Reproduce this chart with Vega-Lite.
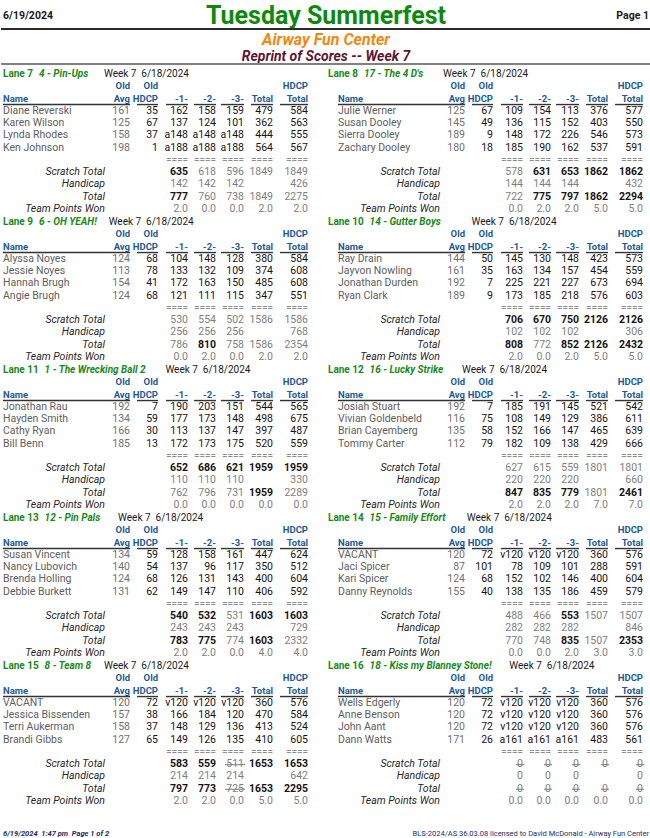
{
  "$schema": "https://vega.github.io/schema/vega-lite/v6.json",
  "background": "white",
  "padding": 0,
  "spacing": 0,
  "config": {"view": {"stroke": null}, "header": {"labels": false, "title": null, "labelPadding": 0, "titlePadding": 0}},
  "datasets": {
    "head": [
      {"role": "date", "line": 1, "text": "6/19/2024"},
      {"role": "title", "line": 1, "text": "Tuesday Summerfest"},
      {"role": "page", "line": 1, "text": "Page 1"},
      {"role": "venue", "line": 2, "text": "Airway Fun Center"},
      {"role": "report", "line": 3, "text": "Reprint of Scores -- Week 7"},
      {"role": "rule", "line": 1},
      {"role": "rule", "line": 3}
    ],
    "foot": [
      {"role": "left", "text": "6/19/2024\u00a0\u00a01:47 pm\u00a0\u00a0Page 1 of 2"},
      {"role": "right", "text": "BLS-2024/AS 36.03.08 licensed to David McDonald - Airway Fun Center"}
    ],
    "lanes": [
      {"lane": 7, "match": 1, "side": "L"}, {"lane": 8, "match": 1, "side": "R"},
      {"lane": 9, "match": 2, "side": "L"}, {"lane": 10, "match": 2, "side": "R"},
      {"lane": 11, "match": 3, "side": "L"}, {"lane": 12, "match": 3, "side": "R"},
      {"lane": 13, "match": 4, "side": "L"}, {"lane": 14, "match": 4, "side": "R"},
      {"lane": 15, "match": 5, "side": "L"}, {"lane": 16, "match": 5, "side": "R"}
    ],
    "cols": [
      {"col": "name", "ci": 0},
      {"col": "label", "ci": 1},
      {"col": "avg", "ci": 2, "cs": 0},
      {"col": "hdcp", "ci": 3, "cs": 2.5},
      {"col": "g1", "ci": 4, "cs": 3.5},
      {"col": "g2", "ci": 5, "cs": 4.5},
      {"col": "g3", "ci": 6, "cs": 5.5},
      {"col": "total", "ci": 7, "cs": 6.5},
      {"col": "htotal", "ci": 8, "cs": 7.5}
    ],
    "rows": [
      {"lane": 7, "row": "title", "lanelabel": "Lane 7", "team": "4 - Pin-Ups", "week": "Week 7\u00a0\u00a06/18/2024"},
      {"lane": 7, "row": "old", "avg": "Old", "hdcp": "Old", "htotal": "HDCP"},
      {"lane": 7, "row": "hdr", "name": "Name", "avg": "Avg", "hdcp": "HDCP", "g1": "-1-", "g2": "-2-", "g3": "-3-", "total": "Total", "htotal": "Total"},
      {"lane": 7, "row": "1", "name": "Diane Reverski", "avg": 161, "hdcp": 35, "g1": 162, "g2": 158, "g3": 159, "total": 479, "htotal": 584},
      {"lane": 7, "row": "2", "name": "Karen Wilson", "avg": 125, "hdcp": 67, "g1": 137, "g2": 124, "g3": 101, "total": 362, "htotal": 563},
      {"lane": 7, "row": "3", "name": "Lynda Rhodes", "avg": 158, "hdcp": 37, "g1": "a148", "g2": "a148", "g3": "a148", "total": 444, "htotal": 555},
      {"lane": 7, "row": "4", "name": "Ken Johnson", "avg": 198, "hdcp": 1, "g1": "a188", "g2": "a188", "g3": "a188", "total": 564, "htotal": 567},
      {"lane": 7, "row": "eq", "g1": "====", "g2": "====", "g3": "====", "total": "====", "htotal": "===="},
      {"lane": 7, "row": "scratch", "label": "Scratch Total", "g1": 635, "g2": 618, "g3": 596, "total": 1849, "htotal": 1849, "best": ["g1"]},
      {"lane": 7, "row": "hcp", "label": "Handicap", "g1": 142, "g2": 142, "g3": 142, "htotal": 426},
      {"lane": 7, "row": "tot", "label": "Total", "g1": 777, "g2": 760, "g3": 738, "total": 1849, "htotal": 2275, "best": ["g1"]},
      {"lane": 7, "row": "pts", "label": "Team Points Won", "g1": "2.0", "g2": "0.0", "g3": "0.0", "total": "2.0", "htotal": "2.0"},

      {"lane": 8, "row": "title", "lanelabel": "Lane 8", "team": "17 - The 4 D's", "week": "Week 7\u00a0\u00a06/18/2024"},
      {"lane": 8, "row": "old", "avg": "Old", "hdcp": "Old", "htotal": "HDCP"},
      {"lane": 8, "row": "hdr", "name": "Name", "avg": "Avg", "hdcp": "HDCP", "g1": "-1-", "g2": "-2-", "g3": "-3-", "total": "Total", "htotal": "Total"},
      {"lane": 8, "row": "1", "name": "Julie Werner", "avg": 125, "hdcp": 67, "g1": 109, "g2": 154, "g3": 113, "total": 376, "htotal": 577},
      {"lane": 8, "row": "2", "name": "Susan Dooley", "avg": 145, "hdcp": 49, "g1": 136, "g2": 115, "g3": 152, "total": 403, "htotal": 550},
      {"lane": 8, "row": "3", "name": "Sierra Dooley", "avg": 189, "hdcp": 9, "g1": 148, "g2": 172, "g3": 226, "total": 546, "htotal": 573},
      {"lane": 8, "row": "4", "name": "Zachary Dooley", "avg": 180, "hdcp": 18, "g1": 185, "g2": 190, "g3": 162, "total": 537, "htotal": 591},
      {"lane": 8, "row": "eq", "g1": "====", "g2": "====", "g3": "====", "total": "====", "htotal": "===="},
      {"lane": 8, "row": "scratch", "label": "Scratch Total", "g1": 578, "g2": 631, "g3": 653, "total": 1862, "htotal": 1862, "best": ["g2", "g3", "total", "htotal"]},
      {"lane": 8, "row": "hcp", "label": "Handicap", "g1": 144, "g2": 144, "g3": 144, "htotal": 432},
      {"lane": 8, "row": "tot", "label": "Total", "g1": 722, "g2": 775, "g3": 797, "total": 1862, "htotal": 2294, "best": ["g2", "g3", "total", "htotal"]},
      {"lane": 8, "row": "pts", "label": "Team Points Won", "g1": "0.0", "g2": "2.0", "g3": "2.0", "total": "5.0", "htotal": "5.0"},

      {"lane": 9, "row": "title", "lanelabel": "Lane 9", "team": "6 - OH YEAH!", "week": "Week 7\u00a0\u00a06/18/2024"},
      {"lane": 9, "row": "old", "avg": "Old", "hdcp": "Old", "htotal": "HDCP"},
      {"lane": 9, "row": "hdr", "name": "Name", "avg": "Avg", "hdcp": "HDCP", "g1": "-1-", "g2": "-2-", "g3": "-3-", "total": "Total", "htotal": "Total"},
      {"lane": 9, "row": "1", "name": "Alyssa Noyes", "avg": 124, "hdcp": 68, "g1": 104, "g2": 148, "g3": 128, "total": 380, "htotal": 584},
      {"lane": 9, "row": "2", "name": "Jessie Noyes", "avg": 113, "hdcp": 78, "g1": 133, "g2": 132, "g3": 109, "total": 374, "htotal": 608},
      {"lane": 9, "row": "3", "name": "Hannah Brugh", "avg": 154, "hdcp": 41, "g1": 172, "g2": 163, "g3": 150, "total": 485, "htotal": 608},
      {"lane": 9, "row": "4", "name": "Angie Brugh", "avg": 124, "hdcp": 68, "g1": 121, "g2": 111, "g3": 115, "total": 347, "htotal": 551},
      {"lane": 9, "row": "eq", "g1": "====", "g2": "====", "g3": "====", "total": "====", "htotal": "===="},
      {"lane": 9, "row": "scratch", "label": "Scratch Total", "g1": 530, "g2": 554, "g3": 502, "total": 1586, "htotal": 1586},
      {"lane": 9, "row": "hcp", "label": "Handicap", "g1": 256, "g2": 256, "g3": 256, "htotal": 768},
      {"lane": 9, "row": "tot", "label": "Total", "g1": 786, "g2": 810, "g3": 758, "total": 1586, "htotal": 2354, "best": ["g2"]},
      {"lane": 9, "row": "pts", "label": "Team Points Won", "g1": "0.0", "g2": "2.0", "g3": "0.0", "total": "2.0", "htotal": "2.0"},

      {"lane": 10, "row": "title", "lanelabel": "Lane 10", "team": "14 - Gutter Boys\u00a0\u00a0\u00a0", "week": "Week 7\u00a0\u00a06/18/2024"},
      {"lane": 10, "row": "old", "avg": "Old", "hdcp": "Old", "htotal": "HDCP"},
      {"lane": 10, "row": "hdr", "name": "Name", "avg": "Avg", "hdcp": "HDCP", "g1": "-1-", "g2": "-2-", "g3": "-3-", "total": "Total", "htotal": "Total"},
      {"lane": 10, "row": "1", "name": "Ray Drain", "avg": 144, "hdcp": 50, "g1": 145, "g2": 130, "g3": 148, "total": 423, "htotal": 573},
      {"lane": 10, "row": "2", "name": "Jayvon Nowling", "avg": 161, "hdcp": 35, "g1": 163, "g2": 134, "g3": 157, "total": 454, "htotal": 559},
      {"lane": 10, "row": "3", "name": "Jonathan Durden", "avg": 192, "hdcp": 7, "g1": 225, "g2": 221, "g3": 227, "total": 673, "htotal": 694},
      {"lane": 10, "row": "4", "name": "Ryan Clark", "avg": 189, "hdcp": 9, "g1": 173, "g2": 185, "g3": 218, "total": 576, "htotal": 603},
      {"lane": 10, "row": "eq", "g1": "====", "g2": "====", "g3": "====", "total": "====", "htotal": "===="},
      {"lane": 10, "row": "scratch", "label": "Scratch Total", "g1": 706, "g2": 670, "g3": 750, "total": 2126, "htotal": 2126, "best": ["g1", "g2", "g3", "total", "htotal"]},
      {"lane": 10, "row": "hcp", "label": "Handicap", "g1": 102, "g2": 102, "g3": 102, "htotal": 306},
      {"lane": 10, "row": "tot", "label": "Total", "g1": 808, "g2": 772, "g3": 852, "total": 2126, "htotal": 2432, "best": ["g1", "g3", "total", "htotal"]},
      {"lane": 10, "row": "pts", "label": "Team Points Won", "g1": "2.0", "g2": "0.0", "g3": "2.0", "total": "5.0", "htotal": "5.0"},

      {"lane": 11, "row": "title", "lanelabel": "Lane 11", "team": "1 - The Wrecking Ball 2", "week": "Week 7\u00a0\u00a06/18/2024"},
      {"lane": 11, "row": "old", "avg": "Old", "hdcp": "Old", "htotal": "HDCP"},
      {"lane": 11, "row": "hdr", "name": "Name", "avg": "Avg", "hdcp": "HDCP", "g1": "-1-", "g2": "-2-", "g3": "-3-", "total": "Total", "htotal": "Total"},
      {"lane": 11, "row": "1", "name": "Jonathan Rau", "avg": 192, "hdcp": 7, "g1": 190, "g2": 203, "g3": 151, "total": 544, "htotal": 565},
      {"lane": 11, "row": "2", "name": "Hayden Smith", "avg": 134, "hdcp": 59, "g1": 177, "g2": 173, "g3": 148, "total": 498, "htotal": 675},
      {"lane": 11, "row": "3", "name": "Cathy Ryan", "avg": 166, "hdcp": 30, "g1": 113, "g2": 137, "g3": 147, "total": 397, "htotal": 487},
      {"lane": 11, "row": "4", "name": "Bill Benn", "avg": 185, "hdcp": 13, "g1": 172, "g2": 173, "g3": 175, "total": 520, "htotal": 559},
      {"lane": 11, "row": "eq", "g1": "====", "g2": "====", "g3": "====", "total": "====", "htotal": "===="},
      {"lane": 11, "row": "scratch", "label": "Scratch Total", "g1": 652, "g2": 686, "g3": 621, "total": 1959, "htotal": 1959, "best": ["g1", "g2", "g3", "total", "htotal"]},
      {"lane": 11, "row": "hcp", "label": "Handicap", "g1": 110, "g2": 110, "g3": 110, "htotal": 330},
      {"lane": 11, "row": "tot", "label": "Total", "g1": 762, "g2": 796, "g3": 731, "total": 1959, "htotal": 2289, "best": ["total"]},
      {"lane": 11, "row": "pts", "label": "Team Points Won", "g1": "0.0", "g2": "0.0", "g3": "0.0", "total": "0.0", "htotal": "0.0"},

      {"lane": 12, "row": "title", "lanelabel": "Lane 12", "team": "16 - Lucky Strike", "week": "Week 7\u00a0\u00a06/18/2024"},
      {"lane": 12, "row": "old", "avg": "Old", "hdcp": "Old", "htotal": "HDCP"},
      {"lane": 12, "row": "hdr", "name": "Name", "avg": "Avg", "hdcp": "HDCP", "g1": "-1-", "g2": "-2-", "g3": "-3-", "total": "Total", "htotal": "Total"},
      {"lane": 12, "row": "1", "name": "Josiah Stuart", "avg": 192, "hdcp": 7, "g1": 185, "g2": 191, "g3": 145, "total": 521, "htotal": 542},
      {"lane": 12, "row": "2", "name": "Vivian Goldenbeld", "avg": 116, "hdcp": 75, "g1": 108, "g2": 149, "g3": 129, "total": 386, "htotal": 611},
      {"lane": 12, "row": "3", "name": "Brian Cayemberg", "avg": 135, "hdcp": 58, "g1": 152, "g2": 166, "g3": 147, "total": 465, "htotal": 639},
      {"lane": 12, "row": "4", "name": "Tommy Carter", "avg": 112, "hdcp": 79, "g1": 182, "g2": 109, "g3": 138, "total": 429, "htotal": 666},
      {"lane": 12, "row": "eq", "g1": "====", "g2": "====", "g3": "====", "total": "====", "htotal": "===="},
      {"lane": 12, "row": "scratch", "label": "Scratch Total", "g1": 627, "g2": 615, "g3": 559, "total": 1801, "htotal": 1801},
      {"lane": 12, "row": "hcp", "label": "Handicap", "g1": 220, "g2": 220, "g3": 220, "htotal": 660},
      {"lane": 12, "row": "tot", "label": "Total", "g1": 847, "g2": 835, "g3": 779, "total": 1801, "htotal": 2461, "best": ["g1", "g2", "g3", "htotal"]},
      {"lane": 12, "row": "pts", "label": "Team Points Won", "g1": "2.0", "g2": "2.0", "g3": "2.0", "total": "7.0", "htotal": "7.0"},

      {"lane": 13, "row": "title", "lanelabel": "Lane 13", "team": "12 - Pin Pals", "week": "Week 7\u00a0\u00a06/18/2024"},
      {"lane": 13, "row": "old", "avg": "Old", "hdcp": "Old", "htotal": "HDCP"},
      {"lane": 13, "row": "hdr", "name": "Name", "avg": "Avg", "hdcp": "HDCP", "g1": "-1-", "g2": "-2-", "g3": "-3-", "total": "Total", "htotal": "Total"},
      {"lane": 13, "row": "1", "name": "Susan Vincent", "avg": 134, "hdcp": 59, "g1": 128, "g2": 158, "g3": 161, "total": 447, "htotal": 624},
      {"lane": 13, "row": "2", "name": "Nancy Lubovich", "avg": 140, "hdcp": 54, "g1": 137, "g2": 96, "g3": 117, "total": 350, "htotal": 512},
      {"lane": 13, "row": "3", "name": "Brenda Holling", "avg": 124, "hdcp": 68, "g1": 126, "g2": 131, "g3": 143, "total": 400, "htotal": 604},
      {"lane": 13, "row": "4", "name": "Debbie Burkett", "avg": 131, "hdcp": 62, "g1": 149, "g2": 147, "g3": 110, "total": 406, "htotal": 592},
      {"lane": 13, "row": "eq", "g1": "====", "g2": "====", "g3": "====", "total": "====", "htotal": "===="},
      {"lane": 13, "row": "scratch", "label": "Scratch Total", "g1": 540, "g2": 532, "g3": 531, "total": 1603, "htotal": 1603, "best": ["g1", "g2", "total", "htotal"]},
      {"lane": 13, "row": "hcp", "label": "Handicap", "g1": 243, "g2": 243, "g3": 243, "htotal": 729},
      {"lane": 13, "row": "tot", "label": "Total", "g1": 783, "g2": 775, "g3": 774, "total": 1603, "htotal": 2332, "best": ["g1", "g2", "total"]},
      {"lane": 13, "row": "pts", "label": "Team Points Won", "g1": "2.0", "g2": "2.0", "g3": "0.0", "total": "4.0", "htotal": "4.0"},

      {"lane": 14, "row": "title", "lanelabel": "Lane 14", "team": "15 - Family Effort", "week": "Week 7\u00a0\u00a06/18/2024"},
      {"lane": 14, "row": "old", "avg": "Old", "hdcp": "Old", "htotal": "HDCP"},
      {"lane": 14, "row": "hdr", "name": "Name", "avg": "Avg", "hdcp": "HDCP", "g1": "-1-", "g2": "-2-", "g3": "-3-", "total": "Total", "htotal": "Total"},
      {"lane": 14, "row": "1", "name": "VACANT", "avg": 120, "hdcp": 72, "g1": "v120", "g2": "v120", "g3": "v120", "total": 360, "htotal": 576},
      {"lane": 14, "row": "2", "name": "Jaci Spicer", "avg": 87, "hdcp": 101, "g1": 78, "g2": 109, "g3": 101, "total": 288, "htotal": 591},
      {"lane": 14, "row": "3", "name": "Kari Spicer", "avg": 124, "hdcp": 68, "g1": 152, "g2": 102, "g3": 146, "total": 400, "htotal": 604},
      {"lane": 14, "row": "4", "name": "Danny Reynolds", "avg": 155, "hdcp": 40, "g1": 138, "g2": 135, "g3": 186, "total": 459, "htotal": 579},
      {"lane": 14, "row": "eq", "g1": "====", "g2": "====", "g3": "====", "total": "====", "htotal": "===="},
      {"lane": 14, "row": "scratch", "label": "Scratch Total", "g1": 488, "g2": 466, "g3": 553, "total": 1507, "htotal": 1507, "best": ["g3"]},
      {"lane": 14, "row": "hcp", "label": "Handicap", "g1": 282, "g2": 282, "g3": 282, "htotal": 846},
      {"lane": 14, "row": "tot", "label": "Total", "g1": 770, "g2": 748, "g3": 835, "total": 1507, "htotal": 2353, "best": ["g3", "htotal"]},
      {"lane": 14, "row": "pts", "label": "Team Points Won", "g1": "0.0", "g2": "0.0", "g3": "2.0", "total": "3.0", "htotal": "3.0"},

      {"lane": 15, "row": "title", "lanelabel": "Lane 15", "team": "8 - Team 8", "week": "Week 7\u00a0\u00a06/18/2024"},
      {"lane": 15, "row": "old", "avg": "Old", "hdcp": "Old", "htotal": "HDCP"},
      {"lane": 15, "row": "hdr", "name": "Name", "avg": "Avg", "hdcp": "HDCP", "g1": "-1-", "g2": "-2-", "g3": "-3-", "total": "Total", "htotal": "Total"},
      {"lane": 15, "row": "1", "name": "VACANT", "avg": 120, "hdcp": 72, "g1": "v120", "g2": "v120", "g3": "v120", "total": 360, "htotal": 576},
      {"lane": 15, "row": "2", "name": "Jessica Bissenden", "avg": 157, "hdcp": 38, "g1": 166, "g2": 184, "g3": 120, "total": 470, "htotal": 584},
      {"lane": 15, "row": "3", "name": "Terri Aukerman", "avg": 158, "hdcp": 37, "g1": 148, "g2": 129, "g3": 136, "total": 413, "htotal": 524},
      {"lane": 15, "row": "4", "name": "Brandi Gibbs", "avg": 127, "hdcp": 65, "g1": 149, "g2": 126, "g3": 135, "total": 410, "htotal": 605},
      {"lane": 15, "row": "eq", "g1": "====", "g2": "====", "g3": "====", "total": "====", "htotal": "===="},
      {"lane": 15, "row": "scratch", "label": "Scratch Total", "g1": 583, "g2": 559, "g3": 511, "total": 1653, "htotal": 1653, "best": ["g1", "g2", "total", "htotal"], "strike": ["g3"]},
      {"lane": 15, "row": "hcp", "label": "Handicap", "g1": 214, "g2": 214, "g3": 214, "htotal": 642},
      {"lane": 15, "row": "tot", "label": "Total", "g1": 797, "g2": 773, "g3": 725, "total": 1653, "htotal": 2295, "best": ["g1", "g2", "total", "htotal"], "strike": ["g3"]},
      {"lane": 15, "row": "pts", "label": "Team Points Won", "g1": "2.0", "g2": "2.0", "g3": "0.0", "total": "5.0", "htotal": "5.0"},

      {"lane": 16, "row": "title", "lanelabel": "Lane 16", "team": "18 - Kiss my Blanney Stone!", "week": "Week 7\u00a0\u00a06/18/2024"},
      {"lane": 16, "row": "old", "avg": "Old", "hdcp": "Old", "htotal": "HDCP"},
      {"lane": 16, "row": "hdr", "name": "Name", "avg": "Avg", "hdcp": "HDCP", "g1": "-1-", "g2": "-2-", "g3": "-3-", "total": "Total", "htotal": "Total"},
      {"lane": 16, "row": "1", "name": "Wells Edgerly", "avg": 120, "hdcp": 72, "g1": "v120", "g2": "v120", "g3": "v120", "total": 360, "htotal": 576},
      {"lane": 16, "row": "2", "name": "Anne Benson", "avg": 120, "hdcp": 72, "g1": "v120", "g2": "v120", "g3": "v120", "total": 360, "htotal": 576},
      {"lane": 16, "row": "3", "name": "John Aant", "avg": 120, "hdcp": 72, "g1": "v120", "g2": "v120", "g3": "v120", "total": 360, "htotal": 576},
      {"lane": 16, "row": "4", "name": "Dann Watts", "avg": 171, "hdcp": 26, "g1": "a161", "g2": "a161", "g3": "a161", "total": 483, "htotal": 561},
      {"lane": 16, "row": "eq", "g1": "====", "g2": "====", "g3": "====", "total": "====", "htotal": "===="},
      {"lane": 16, "row": "scratch", "label": "Scratch Total", "g1": 0, "g2": 0, "g3": 0, "total": 0, "htotal": 0, "strike": ["g1", "g2", "g3", "total", "htotal"]},
      {"lane": 16, "row": "hcp", "label": "Handicap", "g1": 0, "g2": 0, "g3": 0, "htotal": 0},
      {"lane": 16, "row": "tot", "label": "Total", "g1": 0, "g2": 0, "g3": 0, "total": 0, "htotal": 0, "strike": ["g1", "g2", "g3", "total", "htotal"]},
      {"lane": 16, "row": "pts", "label": "Team Points Won", "g1": "0.0", "g2": "0.0", "g3": "0.0", "total": "0.0", "htotal": "0.0"}
    ]
  },
  "vconcat": [
    {
      "width": 650,
      "height": 65,
      "data": {"name": "head"},
      "encoding": {
        "y": {"field": "line", "type": "quantitative", "scale": {"domain": [1, 2, 3], "range": [16, 40, 57], "zero": false, "nice": false}, "axis": null}
      },
      "layer": [
        {"transform": [{"filter": "datum.role == 'title'"}], "mark": {"type": "text", "font": "Roboto", "fontSize": 25, "fontWeight": "bold", "fill": "#0d8a0d", "baseline": "middle"}, "encoding": {"text": {"field": "text"}}},
        {"transform": [{"filter": "datum.role == 'venue'"}], "mark": {"type": "text", "font": "Roboto", "fontSize": 16, "fontWeight": "bold", "fontStyle": "italic", "fill": "#f5870f", "baseline": "middle"}, "encoding": {"text": {"field": "text"}}},
        {"transform": [{"filter": "datum.role == 'report'"}], "mark": {"type": "text", "font": "Roboto", "fontSize": 14, "fontWeight": "bold", "fontStyle": "italic", "fill": "#5d1632", "baseline": "middle"}, "encoding": {"text": {"field": "text"}}},
        {"transform": [{"filter": "datum.role == 'date' || datum.role == 'page'"}], "mark": {"type": "text", "font": "Roboto", "fontSize": 10.5, "fontWeight": "bold", "fill": "#1a1a1a", "baseline": "middle", "align": {"expr": "datum.role == 'page' ? 'right' : 'left'"}}, "encoding": {"x": {"field": "role", "type": "nominal", "scale": {"type": "point", "domain": ["date", "page"], "range": [2, 648], "padding": 0}, "axis": null}, "text": {"field": "text"}}},
        {"transform": [{"filter": "datum.role == 'rule'"}], "mark": {"type": "rule", "strokeWidth": 2, "stroke": {"expr": "datum.line == 1 ? '#2a2a2a' : '#808080'"}, "yOffset": {"expr": "datum.line == 1 ? 13 : 7"}}, "encoding": {}}
      ]
    },
    {
      "data": {"name": "rows"},
      "transform": [
        {"lookup": "lane", "from": {"data": {"name": "lanes"}, "key": "lane", "fields": ["match", "side"]}},
        {"fold": ["name", "label", "avg", "hdcp", "g1", "g2", "g3", "total", "htotal"], "as": ["col", "text"]},
        {"lookup": "col", "from": {"data": {"name": "cols"}, "key": "col", "fields": ["ci", "cs"]}}
      ],
      "facet": {
        "row": {"field": "match", "type": "ordinal", "header": null},
        "column": {"field": "side", "type": "nominal", "header": null}
      },
      "spacing": {"row": 0, "column": 0},
      "bounds": "flush",
      "spec": {
        "width": 325,
        "height": 147.5,
        "encoding": {
          "x": {"field": "ci", "type": "quantitative", "scale": {"domain": [0, 1, 2, 2.5, 3, 3.5, 4, 4.5, 5, 5.5, 6, 6.5, 7, 7.5, 8], "range": [2, 104, 129, 136, 157, 165, 187, 193, 215, 220, 243, 250, 272, 279, 307], "zero": false, "nice": false}, "axis": null},
          "y": {"field": "row", "type": "nominal", "scale": {"type": "point", "domain": ["title", "old", "hdr", "1", "2", "3", "4", "eq", "scratch", "hcp", "tot", "pts"], "range": [9, 144], "padding": 0}, "axis": null}
        },
        "layer": [
          {"transform": [{"filter": "datum.row == 'title' && datum.col == 'name'"}], "mark": {"type": "text", "font": "Roboto", "fontSize": 10, "fontWeight": "bold", "align": "left", "baseline": "middle", "fill": "#178a17"}, "encoding": {"text": {"field": "lanelabel"}}},
          {"transform": [{"filter": "datum.row == 'title' && datum.col == 'name'"}], "mark": {"type": "text", "font": "Roboto", "fontSize": 10, "fontWeight": "bold", "fontStyle": "italic", "align": "left", "baseline": "middle", "fill": "#178a17", "dx": {"expr": "length(datum.lanelabel) * 5.6 + 2.4"}}, "encoding": {"text": {"field": "team"}}},
          {"transform": [{"filter": "datum.row == 'title' && datum.col == 'name'"}], "mark": {"type": "text", "font": "Roboto", "fontSize": 10, "align": "left", "baseline": "middle", "fill": "#1a1a1a", "dx": {"expr": "length(datum.lanelabel + datum.team) * 4.73 + 20.5"}}, "encoding": {"text": {"field": "week"}}},
          {"transform": [{"filter": "(datum.row == 'old' || datum.row == 'hdr') && datum.col != 'name' && isValid(datum.text)"}], "mark": {"type": "text", "font": "Roboto", "fontSize": 9.5, "fontWeight": "bold", "align": "right", "baseline": "middle", "fill": "#1c5a97", "xOffset": {"expr": "datum.side == 'R' ? 10 : 0"}}, "encoding": {"text": {"field": "text"}}},
          {"transform": [{"filter": "datum.row == 'hdr' && datum.col == 'name'"}], "mark": {"type": "text", "font": "Roboto", "fontSize": 9.5, "fontWeight": "bold", "align": "left", "baseline": "middle", "fill": "#1c5a97", "xOffset": {"expr": "datum.side == 'R' ? 10 : 0"}}, "encoding": {"text": {"field": "text"}}},
          {"transform": [{"filter": "datum.row == 'hdr' && datum.col != 'name' && isValid(datum.text)"}], "mark": {"type": "rule", "stroke": "#333333", "strokeWidth": 1.4, "yOffset": 6, "xOffset": {"expr": "datum.side == 'R' ? 10 : 0"}, "x2Offset": {"expr": "datum.side == 'R' ? 10 : 0"}}, "encoding": {"x": {"field": "cs", "type": "quantitative", "axis": null}, "x2": {"field": "ci"}}},
          {"transform": [{"filter": "indexof(['1','2','3','4'], datum.row) >= 0 && datum.col == 'name'"}], "mark": {"type": "text", "font": "Roboto", "fontSize": 10.5, "align": "left", "baseline": "middle", "fill": "#5e5e5e", "xOffset": {"expr": "datum.side == 'R' ? 10 : 0"}}, "encoding": {"text": {"field": "text"}}},
          {"transform": [{"filter": "indexof(['1','2','3','4'], datum.row) >= 0 && datum.col == 'avg'"}], "mark": {"type": "text", "font": "Roboto", "fontSize": 10.5, "align": "right", "baseline": "middle", "fill": "#707070", "xOffset": {"expr": "datum.side == 'R' ? 10 : 0"}}, "encoding": {"text": {"field": "text"}}},
          {"transform": [{"filter": "indexof(['1','2','3','4'], datum.row) >= 0 && datum.col != 'avg' && datum.col != 'name' && isValid(datum.text)"}], "mark": {"type": "text", "font": "Roboto", "fontSize": 10.5, "align": "right", "baseline": "middle", "fill": "#141414", "xOffset": {"expr": "datum.side == 'R' ? 10 : 0"}}, "encoding": {"text": {"field": "text"}}},
          {"transform": [{"filter": "datum.row == 'eq' && isValid(datum.text)"}], "mark": {"type": "text", "font": "Roboto", "fontSize": 10, "align": "right", "baseline": "middle", "fill": "#8c8c8c", "xOffset": {"expr": "datum.side == 'R' ? 10 : 0"}}, "encoding": {"text": {"field": "text"}}},
          {"transform": [{"filter": "datum.col == 'label' && isValid(datum.text)"}], "mark": {"type": "text", "font": "Roboto", "fontSize": 10.5, "fontStyle": "italic", "align": "right", "baseline": "middle", "fill": "#262626", "xOffset": {"expr": "datum.side == 'R' ? 10 : 0"}}, "encoding": {"text": {"field": "text"}}},
          {"transform": [{"filter": "indexof(['scratch','hcp','tot','pts'], datum.row) >= 0 && datum.col != 'label' && isValid(datum.text)"}], "mark": {"type": "text", "font": "Roboto", "fontSize": 10.5, "align": "right", "baseline": "middle", "fill": {"expr": "isArray(datum.best) && indexof(datum.best, datum.col) >= 0 ? '#141414' : '#7e7e7e'"}, "fontWeight": {"expr": "isArray(datum.best) && indexof(datum.best, datum.col) >= 0 ? 'bold' : 'normal'"}, "xOffset": {"expr": "datum.side == 'R' ? 10 : 0"}}, "encoding": {"text": {"field": "text"}}},
          {"transform": [{"filter": "isArray(datum.strike) && indexof(datum.strike, datum.col) >= 0"}], "mark": {"type": "rule", "stroke": "#777777", "strokeWidth": 1, "yOffset": 0.5, "xOffset": {"expr": "(datum.side == 'R' ? 10 : 0) - length('' + datum.text) * 6 - 1"}, "x2Offset": {"expr": "(datum.side == 'R' ? 10 : 0) + 1"}}, "encoding": {"x2": {"field": "ci"}}}
        ]
      }
    },
    {
      "width": 650,
      "height": 35.5,
      "data": {"name": "foot"},
      "mark": {"type": "text", "font": "Roboto", "fontSize": 7.5, "fill": "#1c2c66", "baseline": "middle", "dy": 9, "align": {"expr": "datum.role == 'right' ? 'right' : 'left'"}, "fontStyle": {"expr": "datum.role == 'right' ? 'normal' : 'italic'"}, "fontWeight": {"expr": "datum.role == 'right' ? 'normal' : 'bold'"}},
      "encoding": {
        "x": {"field": "role", "type": "nominal", "scale": {"type": "point", "domain": ["left", "right"], "range": [2, 648], "padding": 0}, "axis": null},
        "text": {"field": "text"}
      }
    }
  ]
}
